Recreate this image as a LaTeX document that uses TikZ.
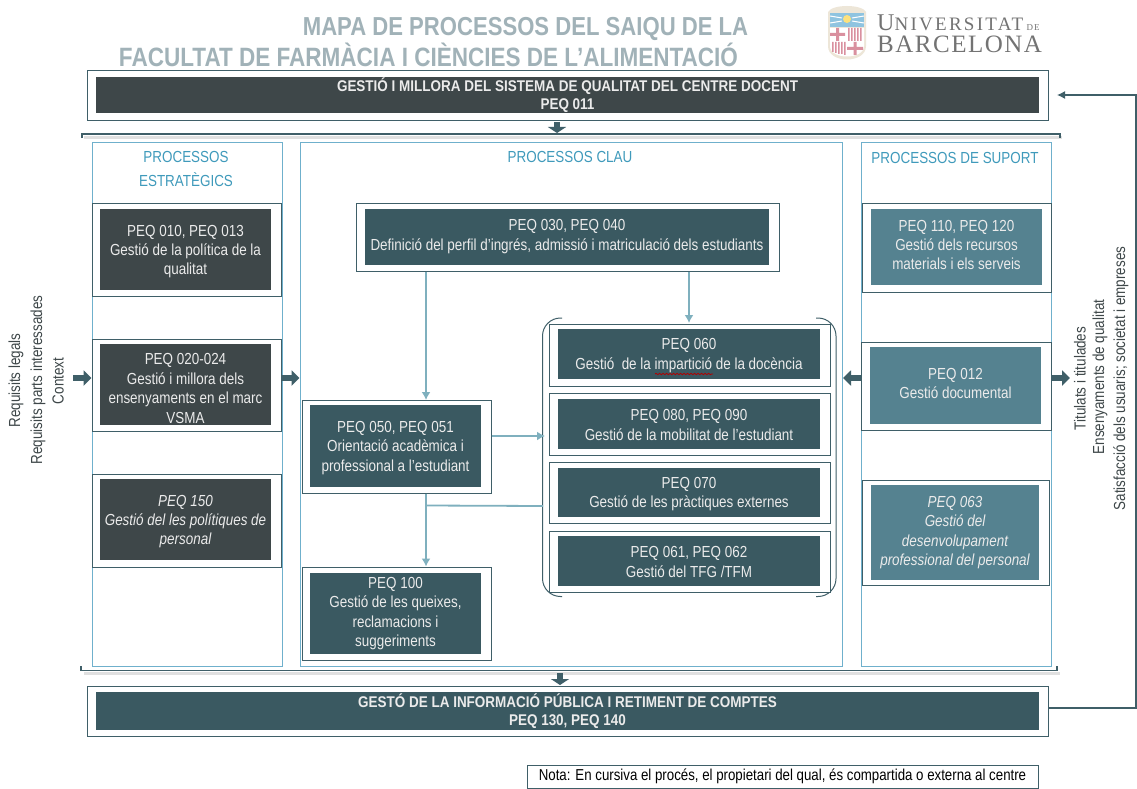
\documentclass[tikz,border=0pt]{standalone}
\usepackage{fontspec}
\setmainfont{Liberation Sans}
\newfontfamily\nar[FakeStretch=0.84]{Liberation Sans}
\newfontfamily\nartitle[FakeStretch=0.85]{Liberation Sans}
\newfontfamily\narbar[FakeStretch=0.87]{Liberation Sans}
\newfontfamily\logofont{Liberation Serif}
\newfontfamily\logofontA[LetterSpace=12]{Liberation Serif}
\newfontfamily\logofontB[LetterSpace=6]{Liberation Serif}
\usetikzlibrary{arrows.meta,decorations.pathmorphing}
\definecolor{darkgrey}{HTML}{3E4749}
\definecolor{darkteal}{HTML}{3A5961}
\definecolor{midteal}{HTML}{558290}
\definecolor{lineblue}{HTML}{7FB0BE}
\definecolor{panelblue}{HTML}{6FB0CC}
\definecolor{headblue}{HTML}{3F9ABB}
\definecolor{titlegrey}{HTML}{A1B2B8}
\definecolor{framecol}{HTML}{3F5F68}
\definecolor{shieldred}{HTML}{D9909F}
\definecolor{shieldblue}{HTML}{8FC4E0}
\definecolor{shieldedge}{HTML}{EDE6D8}
\tikzset{
  x=1pt,y=-1pt,
  outerbox/.style={draw=framecol,line width=1pt,fill=white,inner sep=0pt},
  panel/.style={draw=panelblue,line width=1pt,inner sep=0pt},
  inner/.style={inner sep=0pt,align=center,text=white!92!black,font=\nar\fontsize{16}{19.4}\selectfont},
  grey/.style={inner,fill=darkgrey},
  teal/.style={inner,fill=darkteal},
  mid/.style={inner,fill=midteal},
  head/.style={text=headblue,font=\nar\fontsize{16}{24}\selectfont,align=center,inner sep=0pt},
  conn/.style={draw=lineblue,line width=1.8pt,-{Latex[length=8pt,width=9pt]}},
  connplain/.style={draw=lineblue,line width=1.8pt},
  fat/.style={draw=framecol,line width=6.5pt,-{Triangle[length=8pt,width=15pt]}},
  sidetext/.style={rotate=90,text=darkgrey,font=\nar\fontsize{16}{19}\selectfont,inner sep=0pt},
  ttl/.style={anchor=base,text=titlegrey,inner sep=0pt,font=\nartitle\bfseries\fontsize{26}{28}\selectfont},
  barfont/.style={font=\narbar\bfseries\fontsize{15.5}{18.5}\selectfont},
}
% name, x0,y0,x1,y1, style, text
\newcommand\PBox[7]{%
  \pgfmathsetmacro\cxv{(#2+#4)/2}\pgfmathsetmacro\cyv{(#3+#5)/2}%
  \pgfmathsetmacro\wv{#4-#2}\pgfmathsetmacro\hv{#5-#3}%
  \node[#6,minimum width=\wv pt,minimum height=\hv pt] (#1) at (\cxv,\cyv) {#7};}
% name, x0,y0,x1,y1, style, downward text shift, text
\newcommand\TBox[8]{%
  \PBox{#1}{#2}{#3}{#4}{#5}{#6}{}%
  \node[inner] (#1t) at ([yshift=-#7pt]#1.center) {#8};}
\begin{document}
\begin{tikzpicture}
\useasboundingbox (0,0) rectangle (1137,789);
\fill[white] (0,0) rectangle (1137,789);
% title
\node[ttl] (t1) at (525.5,36) {MAPA DE PROCESSOS DEL SAIQU DE LA};
\node[ttl,font=\nartitle\bfseries\fontsize{26.5}{28}\selectfont] (t2) at (428.5,66.5) {FACULTAT DE FARMÀCIA I CIÈNCIES DE L’ALIMENTACIÓ};
% logo
\begin{scope}
\fill[shieldedge] (828,12) .. controls (832,4) and (862,4) .. (866,12) -- (866,46) .. controls (866,64) and (828,64) .. (828,46) -- cycle;
\fill[shieldblue] (830,13) rectangle (864,27);
\fill[yellow!60!orange!50] (847,19) circle (4);
\draw[white,line width=1pt] (830,16)--(842,18) (830,23)--(842,21) (864,16)--(852,18) (864,23)--(852,21);
\fill[white] (830,28) .. controls (830,28) .. (864,28) -- (864,46) .. controls (864,60) and (830,60) .. (830,46) -- cycle;
\fill[shieldred] (836,28) rectangle (839,41) (830,33) rectangle (845,36)
  (848,28) rectangle (849.5,41) (851,28) rectangle (852.5,41) (854,28) rectangle (855.5,41) (857,28) rectangle (858.5,41) (860,28) rectangle (861.5,41)
  (853.5,42) rectangle (856.5,55) (847,47) rectangle (863,50)
  (832,42) rectangle (833.5,52) (835,42) rectangle (836.5,53) (838,42) rectangle (839.5,54) (841,42) rectangle (842.5,54) (844,42) rectangle (845.5,55);
\end{scope}
\node[inner sep=0pt,anchor=west,text=black!55,font=\logofontA\fontsize{19}{24}\selectfont] (lg1) at (877,22.5) {{\logofont\fontsize{24}{24}\selectfont U}NIVERSITAT{\logofontA\fontsize{9}{9}\selectfont\ DE}};
\node[inner sep=0pt,anchor=west,text=black!55,font=\logofontB\fontsize{25}{25}\selectfont] (lg2) at (877,44.5) {BARCELONA};
% panels
\PBox{pL}{92}{142}{282}{666}{panel}{}
\PBox{pC}{300}{142}{842}{666}{panel}{}
\PBox{pR}{861}{142}{1051}{666}{panel}{}
\node[head] (hL) at (186,168.5) {PROCESSOS\\ESTRATÈGICS};
\node[head] (hC) at (570,157) {PROCESSOS CLAU};
\node[head] (hR) at (955,158) {PROCESSOS DE SUPORT};
% top and bottom
\PBox{topO}{87}{71}{1048}{121}{outerbox}{}
\PBox{topI}{96}{77}{1039}{113}{grey,barfont}{GESTIÓ I MILLORA DEL SISTEMA DE QUALITAT DEL CENTRE DOCENT\\PEQ 011}
\PBox{botO}{87}{686}{1048}{736}{outerbox}{}
\PBox{botI}{96}{692}{1039}{730}{teal,barfont}{GESTÓ DE LA INFORMACIÓ PÚBLICA I RETIMENT DE COMPTES\\PEQ 130, PEQ 140}
% brackets
\coordinate (bt1) at (82,138); \coordinate (bt2) at (1060,138);
\coordinate (bb1) at (81,666); \coordinate (bb2) at (1057,666);
\draw[black!12,line width=3pt] (84,137) -- (1062,137);
\draw[black!12,line width=3pt] (84,673) -- (1060,673);
\draw[framecol,line width=1.3pt] (bt1) -- (82,134) -- (1060,134) -- (bt2);
\draw[framecol,line width=1.3pt] (bb1) -- (81,670.5) -- (1057,670.5) -- (bb2);
\coordinate (a1s) at (557,122); \coordinate (a1e) at (557,133);
\draw[framecol,line width=6pt,-{Triangle[length=6pt,width=18pt]}] (a1s) -- (a1e);
\coordinate (a2s) at (560,673); \coordinate (a2e) at (560,685);
\draw[framecol,line width=6pt,-{Triangle[length=6pt,width=18pt]}] (a2s) -- (a2e);
% left
\PBox{L1o}{92}{203}{281}{296}{outerbox}{}
\TBox{L1}{100}{209}{271}{290}{grey}{2}{PEQ 010, PEQ 013\\Gestió de la política de la\\qualitat}
\PBox{L2o}{92}{339}{281}{431}{outerbox}{}
\TBox{L2}{100}{344}{271}{425}{grey}{4}{PEQ 020-024\\Gestió i millora dels\\ensenyaments en el marc\\VSMA}
\PBox{L3o}{92}{474}{281}{567}{outerbox}{}
\TBox{L3}{100}{479}{271}{560}{grey}{2}{\itshape PEQ 150\\\itshape Gestió del les polítiques de\\\itshape personal}
% centre
\PBox{C0o}{356}{203}{779}{271}{outerbox}{}
\TBox{C0}{365}{209}{769}{265}{teal}{-0.5}{PEQ 030, PEQ 040\\Definició del perfil d’ingrés, admissió i matriculació dels estudiants}
\PBox{C5o}{302}{400}{491}{493}{outerbox}{}
\TBox{C5}{310}{405}{481}{487}{teal}{2}{PEQ 050, PEQ 051\\Orientació acadèmica i\\professional a l’estudiant}
\PBox{Cxo}{302}{567}{491}{660}{outerbox}{}
\TBox{Cx}{310}{573}{481}{654}{teal}{0}{PEQ 100\\Gestió de les queixes,\\reclamacions i\\suggeriments}
% grouped
\draw[framecol,line width=1pt,rounded corners=18pt] (562,318) -- (542.5,318) -- (542.5,596.5) -- (562,596.5);
\draw[framecol,line width=1pt,rounded corners=18pt] (816,318) -- (836,318) -- (836,596.5) -- (816,596.5);
\PBox{G1o}{549.5}{324}{830}{386}{outerbox}{}
\TBox{G1}{558}{329}{820}{379}{teal}{1.5}{PEQ 060\\Gestió\ \ de la impartició de la docència}
\PBox{G2o}{549.5}{393}{830}{455}{outerbox}{}
\TBox{G2}{558}{399}{820}{449}{teal}{1}{PEQ 080, PEQ 090\\Gestió de la mobilitat de l’estudiant}
\PBox{G3o}{549.5}{462}{830}{523}{outerbox}{}
\TBox{G3}{558}{468}{820}{517}{teal}{1.5}{PEQ 070\\Gestió de les pràctiques externes}
\PBox{G4o}{549.5}{531}{830}{592}{outerbox}{}
\TBox{G4}{558}{536}{820}{586}{teal}{1}{PEQ 061, PEQ 062\\Gestió del TFG /TFM}
\coordinate (sq1) at (655,374); \coordinate (sq2) at (713,374);
\draw[red!70!black,line width=.8pt,decorate,decoration={snake,amplitude=.7pt,segment length=3.5pt}] (sq1) -- (sq2);
% right
\PBox{R1o}{862}{203}{1051}{292}{outerbox}{}
\TBox{R1}{871}{209}{1042}{285}{mid}{-2}{PEQ 110, PEQ 120\\Gestió dels recursos\\materials i els serveis}
\PBox{R2o}{861}{342}{1051}{430}{outerbox}{}
\TBox{R2}{870}{347}{1041}{424}{mid}{-2}{PEQ 012\\Gestió documental}
\PBox{R3o}{862}{480}{1049}{585}{outerbox}{}
\TBox{R3}{871}{485}{1039}{580}{mid}{0}{\itshape PEQ 063\\\itshape Gestió del\\\itshape desenvolupament\\\itshape professional del personal}
% connectors
\coordinate (e1) at (426,400);
\coordinate (e2) at (689,323);
\coordinate (e3) at (545,436);
\draw[conn] ([xshift=-141.5pt]C0o.south) -- (e1);
\draw[conn] ([xshift=121.5pt]C0o.south) -- (e2);
\draw[conn] ([yshift=10.5pt]C5o.east) -- (e3);
\draw[conn] ([xshift=29.5pt]C5o.south) -- ([xshift=29.5pt]Cxo.north);
\coordinate (j1) at (426,505.5); \coordinate (j2) at (543,506);
\draw[connplain] (j1) -- (j2);
% fat arrows
\coordinate (y378) at (0,378);
\coordinate (f1) at (73,378);
\coordinate (f3) at (843,378);
\coordinate (f2) at (1070,378);
\draw[fat] (f1) -- (L2o.west |- y378);
\draw[fat] (L2o.east |- y378) -- (pC.west |- y378);
\draw[fat] (R2o.west |- y378) -- (f3);
\draw[fat] (R2o.east |- y378) -- (f2);
% feedback
\coordinate (fbx) at (1136,95);
\coordinate (fbe) at (1057,95);
\coordinate (fbs) at ([yshift=3pt]botO.east);
\draw[framecol,line width=1.3pt,-{Latex[length=8pt,width=8pt]}] (fbs) -- (fbx |- fbs) -- (fbx) -- (fbe);
% side text
\node[sidetext] (s1) at (16,380.5) {Requisits legals};
\node[sidetext] (s2) at (38,380) {Requisits parts interessades};
\node[sidetext] (s3) at (58,381) {Context};
\node[sidetext] (s4) at (1080,378.5) {Titulats i titulades};
\node[sidetext] (s5) at (1100,377) {Ensenyaments de qualitat};
\node[sidetext] (s6) at (1121,378.5) {Satisfacció dels usuaris; societat i empreses};
% note
\node[draw=framecol,line width=.8pt,minimum width=511pt,minimum height=23pt,inner sep=0pt,text=black,font=\nar\fontsize{15.8}{16}\selectfont] (note) at (782.5,776.5) {Nota: En cursiva el procés, el propietari del qual, és compartida o externa al centre};
\end{tikzpicture}
\end{document}
